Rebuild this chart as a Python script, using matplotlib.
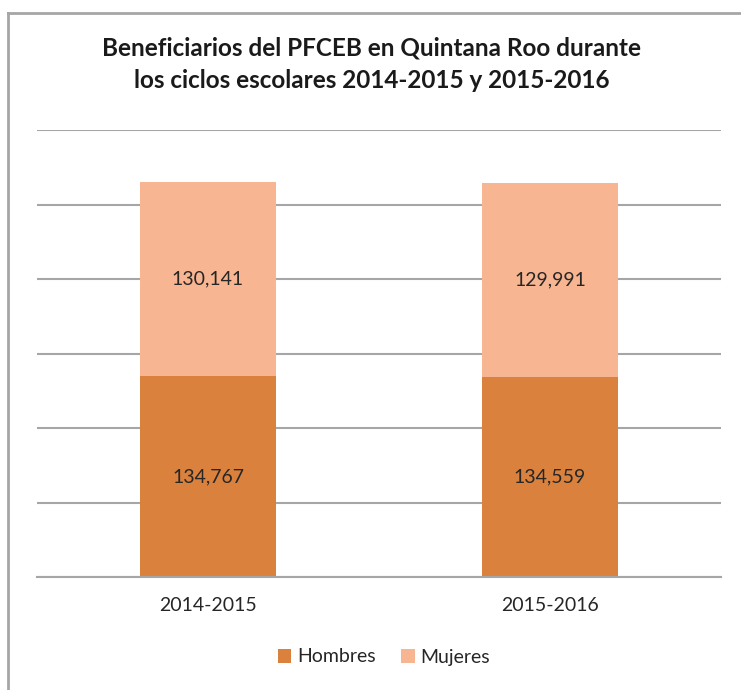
import matplotlib.pyplot as plt
from matplotlib.lines import Line2D

# Data
cycles = ['2014-2015', '2015-2016']
hombres = [134767, 134559]
mujeres = [130141, 129991]

c_h = '#DA823D'
c_m = '#F8B591'
plt.rcParams['font.family'] = ['Lato', 'DejaVu Sans']

fig = plt.figure(figsize=(7.41, 6.90), dpi=100)
W, H = 741, 690
ax = fig.add_axes([37 / W, (H - 577) / H, (721 - 37) / W, (577 - 130) / H])

x = range(len(cycles))
ax.bar(x, hombres, width=0.4, color=c_h, label='Hombres', zorder=2)
ax.bar(x, mujeres, width=0.4, bottom=hombres, color=c_m, label='Mujeres', zorder=2)

for i in x:
    ax.text(i, hombres[i] / 2, f'{hombres[i]:,}', ha='center', va='center',
            fontsize=14, color='#262626')
    ax.text(i, hombres[i] + mujeres[i] / 2, f'{mujeres[i]:,}', ha='center', va='center',
            fontsize=14, color='#262626')

ax.set_xlim(-0.5, 1.5)
ax.set_ylim(0, 300000)
ax.set_yticks(range(0, 300001, 50000))
ax.yaxis.grid(True, color='#A6A6A6', linewidth=1.5, zorder=0)
ax.tick_params(axis='y', left=False, labelleft=False)
ax.tick_params(axis='x', bottom=False, labelsize=14, labelcolor='#262626', pad=11)
ax.set_xticks(list(x))
ax.set_xticklabels(cycles)
for s in ['top', 'right', 'left']:
    ax.spines[s].set_visible(False)
ax.spines['bottom'].set_color('#A6A6A6')
ax.spines['bottom'].set_linewidth(1.5)

fig.text(0.502, 1 - 64 / H, 'Beneficiarios del PFCEB en Quintana Roo durante\nlos ciclos escolares 2014-2015 y 2015-2016',
         ha='center', va='center', fontsize=17.5, fontweight='bold', color='#1a1a1a',
         linespacing=1.5)

fig.legend(loc='center', bbox_to_anchor=(384 / W, 1 - 657 / H), ncol=2, frameon=False,
           fontsize=14, handlelength=0.7, handleheight=0.7, handletextpad=0.3,
           columnspacing=1.3, labelcolor='#262626')

# chart border
fig.add_artist(Line2D([8 / W, 8 / W], [0, 1 - 13 / H], color='#A6A6A6', linewidth=2))
fig.add_artist(Line2D([8 / W, 1], [1 - 13 / H, 1 - 13 / H], color='#A6A6A6', linewidth=2))

fig.savefig('out.png', dpi=100)
